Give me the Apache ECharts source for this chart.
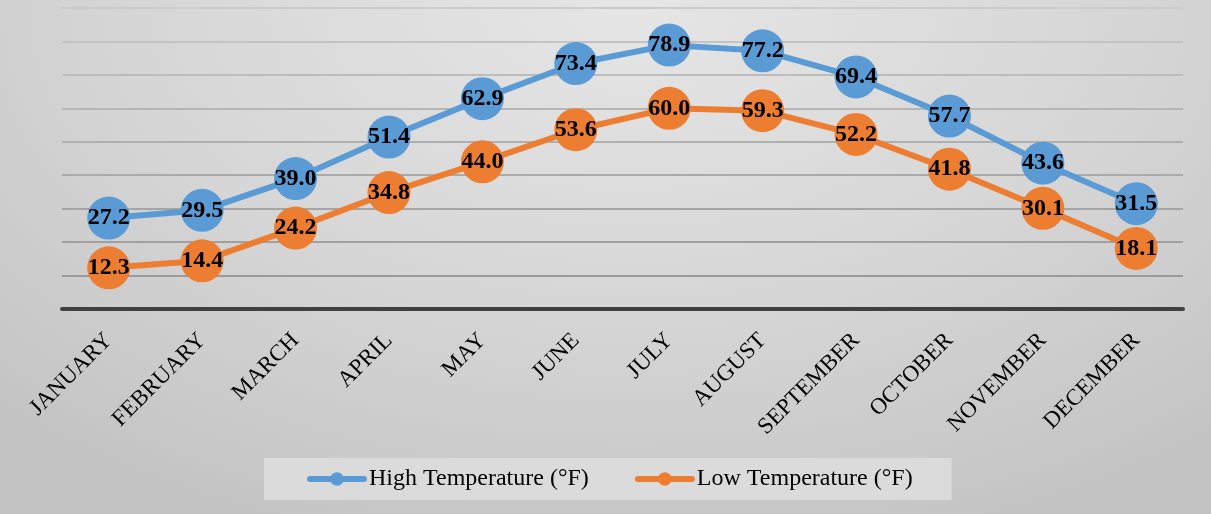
<!DOCTYPE html>
<html>
<head>
<meta charset="utf-8">
<script src="https://cdn.jsdelivr.net/npm/echarts@6/dist/echarts.min.js"></script>
<style>
  html, body { margin: 0; padding: 0; }
  #chart {
    width: 1211px; height: 514px;
    background: radial-gradient(ellipse 75% 110% at 52% 0%, #e6e6e6 0%, #d6d6d6 55%, #c4c4c4 100%);
  }
</style>
</head>
<body>
<div id="chart"></div>
<script>
// Monthly average temperatures (°F)
const months = ['JANUARY', 'FEBRUARY', 'MARCH', 'APRIL', 'MAY', 'JUNE', 'JULY',
                'AUGUST', 'SEPTEMBER', 'OCTOBER', 'NOVEMBER', 'DECEMBER'];
const highTemps = [27.2, 29.5, 39.0, 51.4, 62.9, 73.4, 78.9, 77.2, 69.4, 57.7, 43.6, 31.5];
const lowTemps  = [12.3, 14.4, 24.2, 34.8, 44.0, 53.6, 60.0, 59.3, 52.2, 41.8, 30.1, 18.1];
const seriesNames = ['High Temperature (°F)', 'Low Temperature (°F)'];

const serif = '"Liberation Serif", "Times New Roman", serif';
const BLUE = '#5B9BD5';
const ORANGE = '#ED7D31';

// grid lines fade out towards the top of the plot
const gridColors = ['#8c8c8c', '#9a9a9a', '#a0a0a0', '#a5a5a5', '#aaaaaa',
                    '#b0b0b0', '#b6b6b6', '#bcbcbc', '#c3c3c3', '#cbcbcb'];

function lineSeries(name, data, color) {
  return {
    name: name,
    type: 'line',
    data: data,
    symbol: 'circle',
    symbolSize: 43,
    showAllSymbol: true,
    lineStyle: { color: color, width: 6 },
    itemStyle: { color: color },
    label: {
      show: true,
      position: 'inside',
      formatter: p => p.value.toFixed(1),
      color: '#000',
      fontFamily: serif,
      fontWeight: 'bold',
      fontSize: 24
    },
    emphasis: { disabled: true }
  };
}

const chart = echarts.init(document.getElementById('chart'), null, { renderer: 'canvas' });
chart.setOption({
  backgroundColor: 'transparent',
  animation: false,
  grid: { left: 62, right: 28, top: 8, bottom: 205, containLabel: false },
  xAxis: {
    type: 'category',
    data: months,
    boundaryGap: true,
    axisLine: { show: true, lineStyle: { color: '#404040', width: 4 } },
    axisTick: { show: false },
    axisLabel: {
      rotate: 45,
      margin: 28,
      color: '#000',
      fontFamily: serif,
      fontSize: 23,
      interval: 0
    }
  },
  yAxis: {
    type: 'value',
    min: 0,
    max: 90,
    interval: 10,
    axisLine: { show: false },
    axisTick: { show: false },
    axisLabel: { show: false },
    splitLine: { show: true, lineStyle: { color: gridColors, width: 2 } }
  },
  legend: {
    data: seriesNames,
    left: 264,
    bottom: 14,
    backgroundColor: '#dbdbdb',
    padding: [9, 39, 9, 43],
    itemWidth: 54,
    itemHeight: 17,
    itemGap: 46,
    lineStyle: { width: 6, cap: 'round' },
    textStyle: { color: '#000', fontFamily: serif, fontSize: 24 }
  },
  series: [
    lineSeries(seriesNames[0], highTemps, BLUE),
    lineSeries(seriesNames[1], lowTemps, ORANGE)
  ]
});
</script>
</body>
</html>
